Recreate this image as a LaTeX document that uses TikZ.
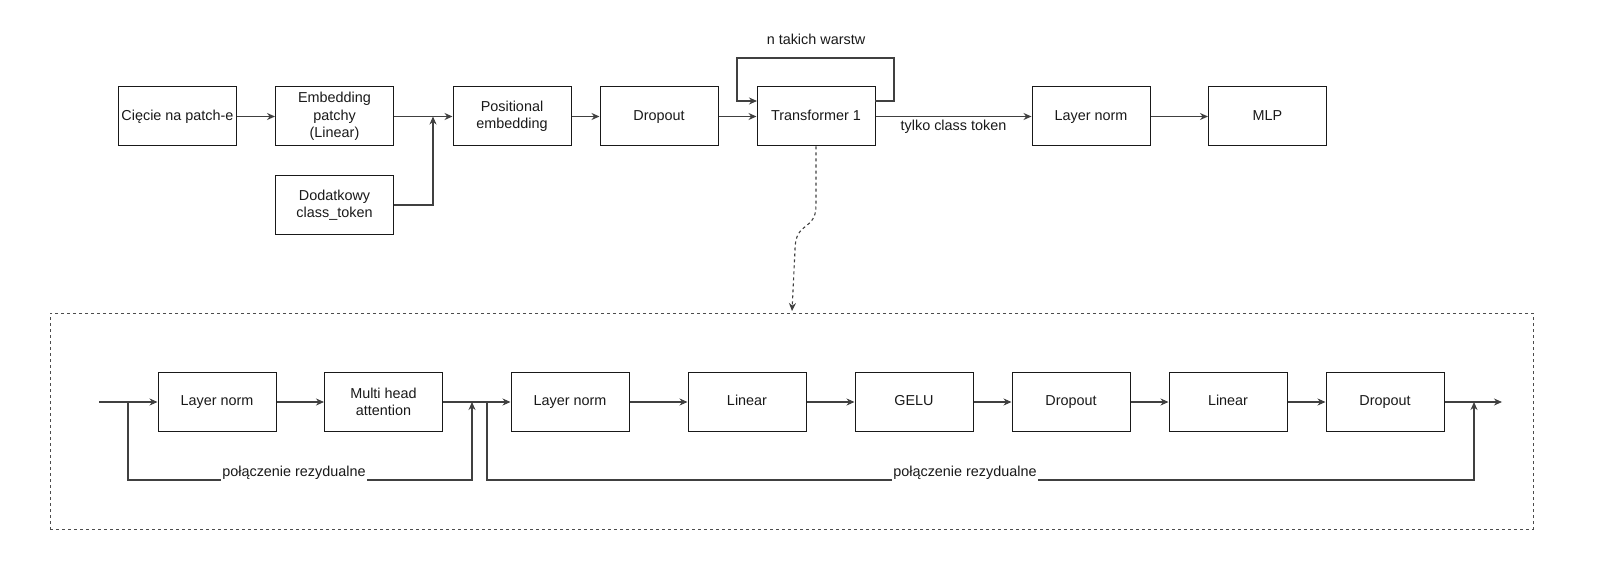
\documentclass[tikz,border=0pt]{standalone}
\usepackage{fontspec}
\setmainfont{Liberation Sans}
\usetikzlibrary{arrows.meta}
\begin{document}
\begin{tikzpicture}[x=1pt,y=-1pt,
  font=\fontsize{14.4}{17.5}\selectfont,
  blk/.style={draw=black!90,line width=1pt,minimum width=118pt,minimum height=59pt,inner sep=0pt,align=center,text=black!90},
  one/.style={blk,text height=10.5pt,text depth=3pt},
  conn/.style={draw=black!75,line width=1.1pt},
  arr/.style={conn,-{Stealth[length=8pt,width=7pt]}},
  lbl/.style={fill=white,inner sep=1pt,text=black!90}]
\useasboundingbox (0,0) rectangle (1601,567);
% top row
\node[one] (cut) at (177.5,116.5) {Cięcie na patch-e};
\node[blk] (emb) at (334.5,116.5) {Embedding\\patchy\\(Linear)};
\node[blk] (cls) at (334.5,205) {Dodatkowy\\class\_token};
\node[blk] (pos) at (512,116.5) {Positional\\embedding};
\node[one] (drp) at (659,116.5) {Dropout};
\node[one] (trf) at (816,116.5) {Transformer 1};
\node[one] (tln) at (1091,116.5) {Layer norm};
\node[one] (mlp) at (1267.5,116.5) {MLP};
\coordinate (j0) at (433,116.5);
\draw[arr] (cut) -- (emb);
\draw[arr] (emb) -- (pos);
\draw[arr] (cls.east) -| (j0);
\draw[arr] (pos) -- (drp);
\draw[arr] (drp) -- (trf);
\draw[arr] (trf) -- node[lbl,below=2pt,fill=none] (tct) {tylko class token} (tln);
\draw[arr] (tln) -- (mlp);
\draw[arr] (875,101) -- (894,101) -- (894,58) -- (737,58) -- (737,101) -- (757,101);
\node[text=black!90] (nlab) at (816,39) {n takich warstw};
% dashed frame
\node[draw=black!70,line width=1pt,dash pattern=on 3pt off 3pt,minimum width=1483pt,minimum height=216pt,inner sep=0pt] (frame) at (791.5,421) {};
\draw[draw=black!75,line width=1.1pt,dash pattern=on 3pt off 3pt,-{Stealth[length=8pt,width=7pt]}]
  (trf.south) -- (816,205) .. controls (816,232) and (795,220) .. (795,250) -- (792,311);
% bottom row
\node[one] (b1) at (217,402) {Layer norm};
\node[blk] (b2) at (383.5,402) {Multi head\\attention};
\node[one] (b3) at (570,402) {Layer norm};
\node[one] (b4) at (747,402) {Linear};
\node[one] (b5) at (914,402) {GELU};
\node[one] (b6) at (1071,402) {Dropout};
\node[one] (b7) at (1228,402) {Linear};
\node[one] (b8) at (1385,402) {Dropout};
\coordinate (in) at (99,402);
\coordinate (s1) at (128,402);
\coordinate (j1) at (472,402);
\coordinate (s2) at (487,402);
\coordinate (j2) at (1474,402);
\coordinate (out) at (1502,402);
\draw[arr] (in) -- (b1);
\draw[arr] (b1) -- (b2);
\draw[arr] (b2) -- (b3);
\draw[arr] (b3) -- (b4);
\draw[arr] (b4) -- (b5);
\draw[arr] (b5) -- (b6);
\draw[arr] (b6) -- (b7);
\draw[arr] (b7) -- (b8);
\draw[arr] (b8) -- (out);
\draw[arr] (s1) -- (128,480) -- (472,480) -- (j1);
\draw[arr] (s2) -- (487,480) -- (1474,480) -- (j2);
\node[lbl] (r1) at (294,473) {połączenie rezydualne};
\node[lbl] (r2) at (965,473) {połączenie rezydualne};
\end{tikzpicture}
\end{document}
